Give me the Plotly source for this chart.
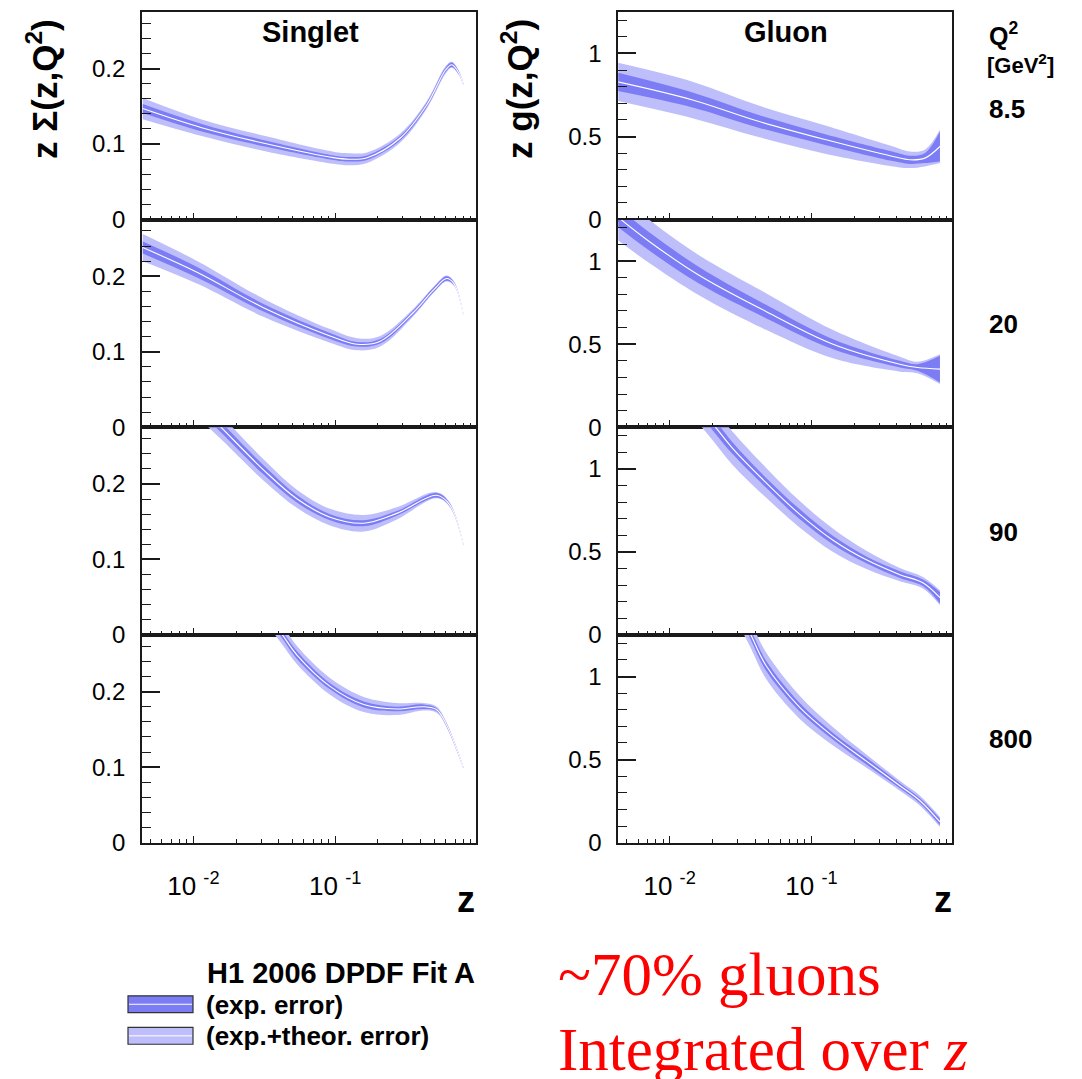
import plotly.graph_objects as go

# ---------------- data ----------------
# Singlet z*Sigma(z,Q^2): z, central value, total (exp+theor) half-width, exp half-width
sing_85_z   = [0.0044, 0.0113, 0.0333, 0.097, 0.126, 0.168, 0.288, 0.443, 0.60, 0.664, 0.74, 0.80]
sing_85_c   = [0.147, 0.122, 0.100, 0.082, 0.080, 0.082, 0.108, 0.152, 0.198, 0.205, 0.195, 0.180]
sing_85_tot = [0.014, 0.011, 0.010, 0.008, 0.008, 0.007, 0.006, 0.005, 0.005, 0.004, 0.003, 0.002]
sing_85_exp = [0.006, 0.005, 0.004, 0.003, 0.003, 0.003, 0.003, 0.003, 0.003, 0.003, 0.002, 0.001]

sing_20_z   = [0.0044, 0.0107, 0.0315, 0.092, 0.143, 0.208, 0.356, 0.50, 0.61, 0.69, 0.80]
sing_20_c   = [0.238, 0.205, 0.158, 0.121, 0.110, 0.114, 0.152, 0.183, 0.197, 0.190, 0.150]
sing_20_tot = [0.018, 0.015, 0.012, 0.009, 0.008, 0.007, 0.005, 0.004, 0.004, 0.003, 0.002]
sing_20_exp = [0.008, 0.007, 0.005, 0.004, 0.003, 0.003, 0.003, 0.003, 0.003, 0.002, 0.001]

sing_90_z   = [0.010, 0.0157, 0.0315, 0.054, 0.092, 0.159, 0.272, 0.52, 0.645, 0.80]
sing_90_c   = [0.312, 0.275, 0.218, 0.180, 0.156, 0.148, 0.161, 0.185, 0.172, 0.120]
sing_90_tot = [0.018, 0.016, 0.014, 0.012, 0.011, 0.011, 0.008, 0.004, 0.003, 0.002]
sing_90_exp = [0.008, 0.007, 0.006, 0.005, 0.004, 0.004, 0.003, 0.003, 0.002, 0.001]

sing_800_z   = [0.028, 0.0425, 0.054, 0.092, 0.159, 0.272, 0.419, 0.52, 0.61, 0.80]
sing_800_c   = [0.322, 0.275, 0.248, 0.207, 0.183, 0.177, 0.180, 0.176, 0.156, 0.100]
sing_800_tot = [0.014, 0.013, 0.012, 0.011, 0.010, 0.008, 0.005, 0.004, 0.003, 0.002]
sing_800_exp = [0.006, 0.005, 0.005, 0.004, 0.004, 0.003, 0.003, 0.002, 0.002, 0.001]

# Gluon z*g(z,Q^2)
glu_85_z   = [0.00425, 0.0145, 0.0429, 0.127, 0.376, 0.493, 0.63, 0.805]
glu_85_c   = [0.830, 0.720, 0.590, 0.480, 0.380, 0.360, 0.370, 0.440]
glu_85_tot = [0.115, 0.110, 0.095, 0.085, 0.060, 0.050, 0.050, 0.100]
glu_85_exp = [0.055, 0.045, 0.038, 0.032, 0.028, 0.025, 0.030, 0.090]

glu_20_z   = [0.00425, 0.00714, 0.0161, 0.0478, 0.142, 0.42, 0.56, 0.805]
glu_20_c   = [1.270, 1.120, 0.915, 0.697, 0.500, 0.380, 0.360, 0.350]
glu_20_tot = [0.140, 0.130, 0.120, 0.110, 0.085, 0.045, 0.035, 0.090]
glu_20_exp = [0.060, 0.055, 0.050, 0.040, 0.030, 0.020, 0.020, 0.080]

glu_90_z   = [0.0158, 0.0211, 0.0277, 0.0478, 0.082, 0.142, 0.244, 0.42, 0.614, 0.805]
glu_90_c   = [1.380, 1.250, 1.125, 0.917, 0.729, 0.570, 0.452, 0.363, 0.313, 0.224]
glu_90_tot = [0.100, 0.100, 0.100, 0.090, 0.080, 0.070, 0.055, 0.040, 0.035, 0.045]
glu_90_exp = [0.040, 0.040, 0.035, 0.030, 0.030, 0.025, 0.020, 0.020, 0.020, 0.035]

glu_800_z   = [0.0282, 0.0374, 0.0478, 0.082, 0.142, 0.244, 0.42, 0.58, 0.805]
glu_800_c   = [1.460, 1.250, 1.066, 0.818, 0.640, 0.491, 0.343, 0.254, 0.125]
glu_800_tot = [0.085, 0.080, 0.080, 0.070, 0.055, 0.040, 0.030, 0.030, 0.030]
glu_800_exp = [0.030, 0.030, 0.030, 0.025, 0.020, 0.020, 0.015, 0.015, 0.020]

q2_labels = ["8.5", "20", "90", "800"]
column_titles = ["Singlet", "Gluon"]
x_major = [0.01, 0.1]
x_major_text = ["10 <sup>-2</sup>", "10 <sup>-1</sup>"]
x_minor = [0.005, 0.006, 0.007, 0.008, 0.009,
           0.02, 0.03, 0.04, 0.05, 0.06, 0.07, 0.08, 0.09,
           0.2, 0.3, 0.4, 0.5, 0.6, 0.7, 0.8, 0.9]

singlet = [(sing_85_z, sing_85_c, sing_85_tot, sing_85_exp),
           (sing_20_z, sing_20_c, sing_20_tot, sing_20_exp),
           (sing_90_z, sing_90_c, sing_90_tot, sing_90_exp),
           (sing_800_z, sing_800_c, sing_800_tot, sing_800_exp)]
gluon = [(glu_85_z, glu_85_c, glu_85_tot, glu_85_exp),
         (glu_20_z, glu_20_c, glu_20_tot, glu_20_exp),
         (glu_90_z, glu_90_c, glu_90_tot, glu_90_exp),
         (glu_800_z, glu_800_c, glu_800_tot, glu_800_exp)]

# ---------------- layout geometry ----------------
W, H = 1082, 1079
row_px = [(12, 222.3), (222.3, 432.5), (432.5, 642.7), (642.7, 853)]
col_px = [(142, 476), (618.3, 952.3)]
XRANGE = [-2.362, -0.007]
YMAX = [0.275, 1.25]
LIGHT = "rgb(190,190,251)"
DARK = "rgb(124,124,245)"
AXC = "#1a1a1a"
SANS = "Liberation Sans"


def px(x):
    return x / W


def py(y):
    return 1 - y / H


fig = go.Figure()
layout = {}
for r in range(4):
    for c in range(2):
        i = r * 2 + c + 1
        xa = "x" if i == 1 else f"x{i}"
        ya = "y" if i == 1 else f"y{i}"
        z, cen, tot, exp = (singlet if c == 0 else gluon)[r]
        for half, col in ((tot, LIGHT), (exp, DARK)):
            lo = [a - b for a, b in zip(cen, half)]
            hi = [a + b for a, b in zip(cen, half)]
            fig.add_trace(go.Scatter(x=z, y=lo, mode="lines", xaxis=xa, yaxis=ya,
                                     line=dict(width=0, shape="spline", color=col),
                                     showlegend=False, hoverinfo="skip"))
            fig.add_trace(go.Scatter(x=z, y=hi, mode="lines", xaxis=xa, yaxis=ya,
                                     line=dict(width=0, shape="spline", color=col),
                                     fill="tonexty", fillcolor=col,
                                     showlegend=False, hoverinfo="skip"))
        fig.add_trace(go.Scatter(x=z, y=cen, mode="lines", xaxis=xa, yaxis=ya,
                                 line=dict(width=1.1, shape="spline", color="white"),
                                 showlegend=False, hoverinfo="skip"))

        xkey = "xaxis" if i == 1 else f"xaxis{i}"
        ykey = "yaxis" if i == 1 else f"yaxis{i}"
        layout[xkey] = dict(
            type="log", range=XRANGE, anchor=ya,
            domain=[px(col_px[c][0]), px(col_px[c][1])],
            showline=True, mirror=True, linecolor=AXC, linewidth=1.8,
            showgrid=False, zeroline=False,
            ticks="inside", ticklen=7, tickwidth=1.3, tickcolor=AXC,
            tickmode="array", tickvals=x_major, ticktext=x_major_text,
            showticklabels=(r == 3), ticklabelstandoff=19,
            tickfont=dict(family=SANS, size=26, color="black"),
            minor=dict(tickmode="array", tickvals=x_minor, ticks="inside",
                       ticklen=4, tickwidth=1.2, tickcolor=AXC, showgrid=False),
        )
        if c == 0:
            yt = dict(tick0=0, dtick=0.1, minor=dict(tick0=0, dtick=0.02, ticks="inside",
                                                      ticklen=9, tickwidth=1.3, tickcolor=AXC,
                                                      showgrid=False))
        else:
            yt = dict(tick0=0, dtick=0.5, minor=dict(tick0=0, dtick=0.1, ticks="inside",
                                                      ticklen=9, tickwidth=1.3, tickcolor=AXC,
                                                      showgrid=False))
        layout[ykey] = dict(
            range=[0, YMAX[c]], anchor=xa,
            domain=[py(row_px[r][1]), py(row_px[r][0])],
            showline=True, mirror=True, linecolor=AXC, linewidth=1.8,
            showgrid=False, zeroline=False,
            ticks="inside", ticklen=18, tickwidth=1.5, tickcolor=AXC,
            tickmode="linear", ticklabelstandoff=10,
            tickfont=dict(family=SANS, size=24, color="black"),
            **yt,
        )

annotations = []


def txt(x, y, text, size, family=SANS, color="black", xanchor="center",
        yanchor="middle", angle=0):
    annotations.append(dict(x=px(x), y=py(y), xref="paper", yref="paper",
                            text=text, showarrow=False, textangle=angle,
                            xanchor=xanchor, yanchor=yanchor,
                            font=dict(family=family, size=size, color=color)))


# column titles
txt(310, 32, f"<b>{column_titles[0]}</b>", 29)
txt(786, 32, f"<b>{column_titles[1]}</b>", 29)
# y titles
txt(42, 90, "<b>z Σ(z,Q<sup>2</sup>)</b>", 35, angle=-90)
txt(517, 90, "<b>z g(z,Q<sup>2</sup>)</b>", 35, angle=-90)
# z axis titles
txt(466, 910, "<b>z</b>", 36)
txt(943, 910, "<b>z</b>", 36)
# Q^2 header and values
txt(987, 34, "<b>Q<sup>2</sup></b>", 25, xanchor="left")
txt(985, 65, "<b>[GeV<sup>2</sup>]</b>", 22, xanchor="left")
for lab, yc in zip(q2_labels, [110, 328, 538, 748]):
    txt(987, yc, f"<b>{lab}</b>", 26, xanchor="left")
# legend texts
txt(205, 985, "<b>H1 2006 DPDF Fit A</b>", 29, xanchor="left")
txt(204, 1017, "<b>(exp. error)</b>", 26, xanchor="left")
txt(204, 1049, "<b>(exp.+theor. error)</b>", 26, xanchor="left")
# red comments
txt(556, 986, "~70% gluons", 61, family="Liberation Serif", color="red", xanchor="left")
txt(556, 1062, "Integrated over <i>z</i>", 61, family="Liberation Serif", color="red", xanchor="left")

shapes = []
for (y0, y1, col) in ((1008, 1025, DARK), (1040, 1057, LIGHT)):
    shapes.append(dict(type="rect", xref="paper", yref="paper",
                       x0=px(128), x1=px(193), y0=py(y1), y1=py(y0),
                       fillcolor=col, line=dict(color="#333333", width=1.2)))
    ym = (y0 + y1) / 2
    shapes.append(dict(type="line", xref="paper", yref="paper",
                       x0=px(129), x1=px(192), y0=py(ym), y1=py(ym),
                       line=dict(color="white", width=1)))

fig.update_layout(
    width=W, height=H, autosize=False,
    margin=dict(l=0, r=0, t=0, b=0),
    paper_bgcolor="white", plot_bgcolor="white",
    annotations=annotations, shapes=shapes,
    showlegend=False,
    **layout,
)

fig.write_html("out.html")
